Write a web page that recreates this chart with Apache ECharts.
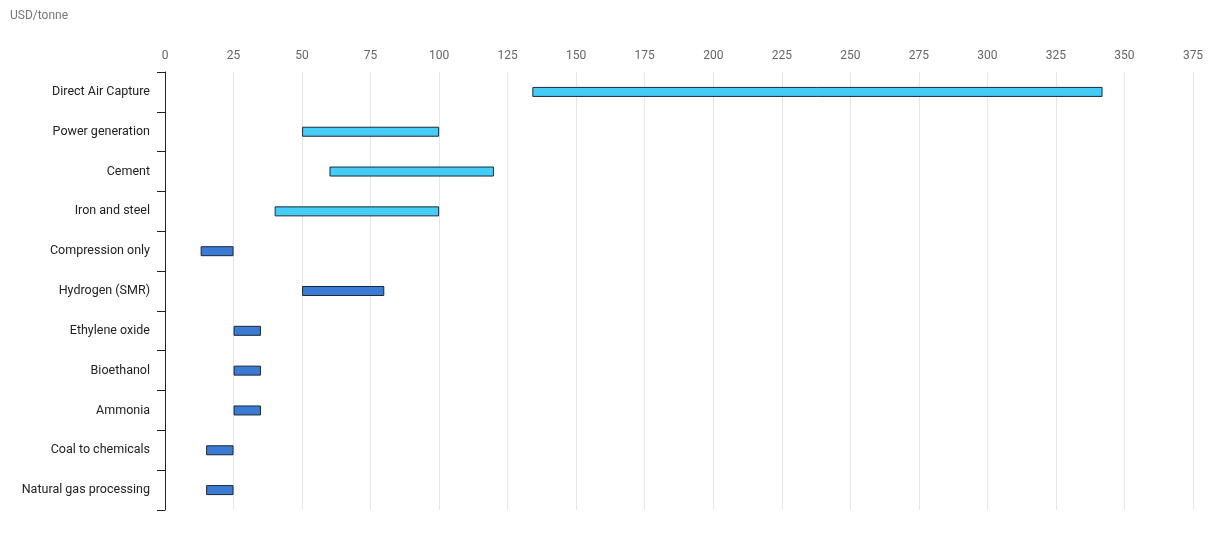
<!DOCTYPE html>
<html><head><meta charset="utf-8">
<script src="https://cdn.jsdelivr.net/npm/echarts@6/dist/echarts.min.js"></script>
<style>html,body{margin:0;background:#fff}#c{width:1221px;height:534px}</style>
</head><body><div id="c"></div>
<script>
const categories = ['Direct Air Capture','Power generation','Cement','Iron and steel','Compression only','Hydrogen (SMR)','Ethylene oxide','Bioethanol','Ammonia','Coal to chemicals','Natural gas processing'];
const lowValues = [134, 50, 60, 40, 13, 50, 25, 25, 25, 15, 15];
const highValues = [342, 100, 120, 100, 25, 80, 35, 35, 35, 25, 25];
const lightGroup = 4; // first four are light blue

let chart = echarts.init(document.getElementById('c'));
chart.setOption({
    animation: false,
    graphic: [{type: 'text', left: 10, top: 10, style: {text: 'USD/tonne', fill: '#777', font: '12px Roboto'}}],
    grid: {left: 165, right: 28, top: 72, bottom: 24},
    xAxis: {
        type: 'value', position: 'top', min: 0, max: 375, interval: 25,
        axisLine: {show: false}, axisTick: {show: false},
        axisLabel: {color: '#666', fontFamily: 'Roboto', fontSize: 12, margin: 10},
        splitLine: {lineStyle: {color: '#e6e6e6'}}
    },
    yAxis: {
        type: 'category', data: categories, inverse: true,
        axisLine: {lineStyle: {color: '#222'}},
        axisTick: {show: true, length: 8, lineStyle: {color: '#222'}},
        axisLabel: {color: '#222', fontFamily: 'Roboto', fontSize: 12.5, margin: 15, padding: [7, 0, 0, 0]}
    },
    series: [
        {type: 'bar', stack: 'r', data: lowValues, itemStyle: {color: 'transparent'}, barWidth: 10, silent: true},
        {type: 'bar', stack: 'r', barWidth: 10,
         data: highValues.map((h, i) => ({
             value: h - lowValues[i],
             itemStyle: {color: i < lightGroup ? '#45cdf7' : '#3c7bd3', borderColor: '#1a2a3a', borderWidth: 1}
         }))}
    ]
});
</script></body></html>
